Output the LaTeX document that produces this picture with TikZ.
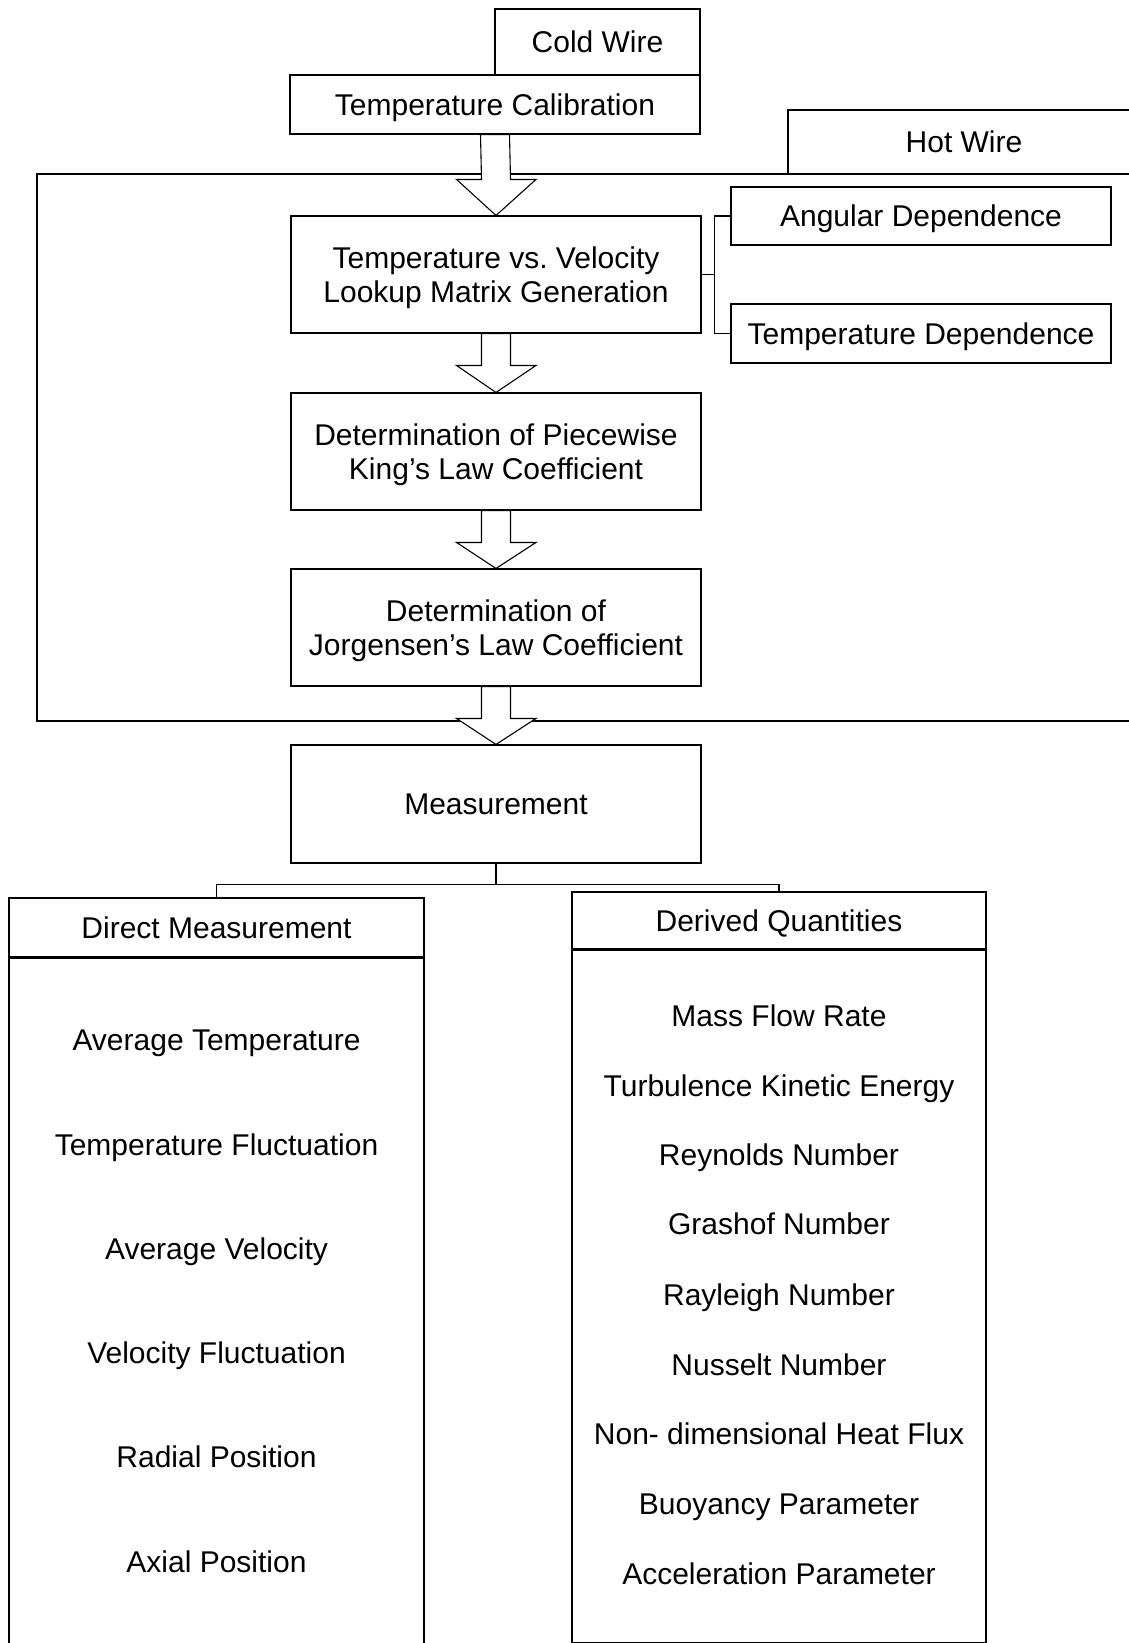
\documentclass[tikz,border=0pt]{standalone}
\usepackage{fontspec}
\setmainfont{Liberation Sans}
\usetikzlibrary{calc}
\frenchspacing
\newcommand\fsz{\fontsize{30}{34}\selectfont}
\newcommand\blockarrow[3]{%
  \draw[barrow] ($(#1.south)+(-14.5,0)$) -- ($(#2.north)+(-14.5,-#3)$) -- ++(-25,0)
    -- (#2.north) -- ($(#2.north)+(40,-#3)$) -- ++(-25.5,0)
    -- ($(#1.south)+(14.5,0)$) -- cycle;}
\begin{document}
\begin{tikzpicture}[x=1pt,y=-1pt,line width=1.1pt,
  bx/.style={draw,inner sep=0pt,align=center,font=\fsz},
  oneline/.style={text height=21.5pt,text depth=0pt},
  twoline/.style={text height=55.5pt,text depth=0pt},
  item/.style={inner sep=0pt,font=\fsz,text height=21.5pt,text depth=0pt},
  barrow/.style={draw,fill=white,line join=miter},
  conn/.style={draw}]
\useasboundingbox (0,0) rectangle (1129,1643);
% frame around hot wire procedure (open at right edge)
\node[draw,inner sep=0pt,minimum width=1103pt,minimum height=547pt] (frame) at (588.5,447.5) {};
% top boxes
\node[bx,oneline,minimum width=205pt,minimum height=66pt] (cold) at (597.5,42) {Cold Wire};
\node[bx,oneline,fill=white,minimum width=410pt,minimum height=59pt] (tc) at (495,104.5) {Temperature Calibration};
\node[bx,oneline,fill=white,minimum width=352pt,minimum height=64pt] (hot) at (964,142) {Hot Wire};
% main column
\node[bx,twoline,minimum width=410pt,minimum height=117pt] (tvv) at (496,274.5) {Temperature vs. Velocity\\Lookup Matrix Generation};
\node[bx,oneline,minimum width=380pt,minimum height=58pt] (ang) at (921,216) {Angular Dependence};
\node[bx,oneline,minimum width=380pt,minimum height=59pt] (tdep) at (921,333.5) {Temperature Dependence};
\node[bx,twoline,minimum width=410pt,minimum height=117pt] (king) at (496,451.5) {Determination of Piecewise\\King’s Law Coefficient};
\node[bx,twoline,minimum width=410pt,minimum height=117pt] (jorg) at (496,627.5) {Determination of\\Jorgensen’s Law Coefficient};
\node[bx,oneline,minimum width=410pt,minimum height=118pt] (meas) at (496,804) {Measurement};
% block arrows
\blockarrow{tc}{tvv}{36}
\blockarrow{tvv}{king}{27}
\blockarrow{king}{jorg}{26}
\blockarrow{jorg}{meas}{26}
% bracket to dependences
\draw[conn] (tvv.east) -- ++(13,0) coordinate (br) |- (ang.west);
\draw[conn] (br) |- (tdep.west);
% lower boxes
\node[bx,oneline,minimum width=415pt,minimum height=59pt] (dhead) at (216.5,927.5) {Direct Measurement};
\node[draw,inner sep=0pt,minimum width=415pt,minimum height=703pt,anchor=north] (dbody) at (dhead.south) {};
\node[bx,oneline,minimum width=414pt,minimum height=57pt] (qhead) at (779,920.5) {Derived Quantities};
\node[draw,inner sep=0pt,minimum width=414pt,minimum height=692pt,anchor=north] (qbody) at (qhead.south) {};
% tree connector
\draw[conn] (meas.south) -- ++(0,21) coordinate (tj) -| (dhead.north);
\draw[conn] (tj) -| (qhead.north);
% direct measurement items
\node[item] (d1) at (216.5,1040) {Average Temperature};
\node[item] (d2) at (216.5,1145) {Temperature Fluctuation};
\node[item] (d3) at (216.5,1249) {Average Velocity};
\node[item] (d4) at (216.5,1353) {Velocity Fluctuation};
\node[item] (d5) at (216.5,1457) {Radial Position};
\node[item] (d6) at (216.5,1562) {Axial Position};
% derived quantities items
\node[item] (q1) at (779,1016) {Mass Flow Rate};
\node[item] (q2) at (779,1086) {Turbulence Kinetic Energy};
\node[item] (q3) at (779,1155) {Reynolds Number};
\node[item] (q4) at (779,1224) {Grashof Number};
\node[item] (q5) at (779,1295) {Rayleigh Number};
\node[item] (q6) at (779,1365) {Nusselt Number};
\node[item] (q7) at (779,1434) {Non- dimensional Heat Flux};
\node[item] (q8) at (779,1504) {Buoyancy Parameter};
\node[item] (q9) at (779,1574) {Acceleration Parameter};
\end{tikzpicture}
\end{document}
